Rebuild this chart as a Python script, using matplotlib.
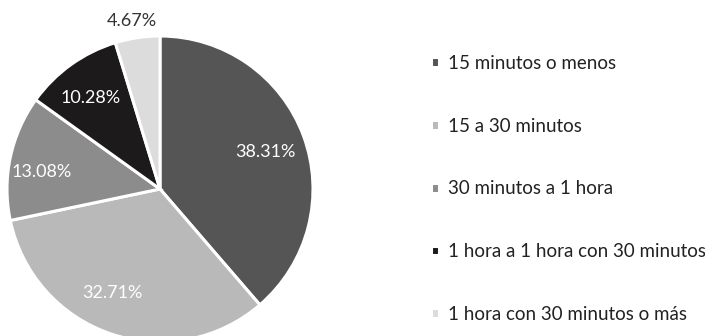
import matplotlib
matplotlib.use("Agg")
import matplotlib.pyplot as plt

categories = ["15 minutos o menos", "15 a 30 minutos", "30 minutos a 1 hora",
              "1 hora a 1 hora con 30 minutos", "1 hora con 30 minutos o más"]
values = [38.31, 32.71, 13.08, 10.28, 4.67]
labels = ["38.31%", "32.71%", "13.08%", "10.28%", "4.67%"]
colors = ["#555555", "#b9b9b9", "#8c8c8c", "#1c1a1b", "#dcdcdc"]
label_colors = ["white", "white", "white", "white", "#333333"]

plt.rcParams['font.family'] = ['Lato', 'DejaVu Sans']

W, H = 705, 336
fig = plt.figure(figsize=(W / 100, H / 100), dpi=100)
cx, cy, r = 160, 189, 153
ax = fig.add_axes([(cx - r) / W, (H - cy - r) / H, 2 * r / W, 2 * r / H])
wedges, _ = ax.pie(values, colors=colors, startangle=90, counterclock=False,
                   radius=1.0, wedgeprops=dict(edgecolor="white", linewidth=2.2))
ax.set_xlim(-1, 1)
ax.set_ylim(-1, 1)
ax.set_aspect("equal")
ax.axis("off")
for w in wedges:
    w.set_clip_on(False)

# label positions in pixel coords (reference)
pos_px = [(265, 152), (112, 293), (42, 172), (91, 98), (132, 21)]
for (px, py), lab, lc in zip(pos_px, labels, label_colors):
    x = (px - cx) / r
    y = (cy - py) / r
    ax.text(x, y, lab, ha="center", va="center", fontsize=13, color=lc,
            clip_on=False)

ax.legend(wedges, categories, loc="upper left",
          bbox_to_anchor=(414 / W, 1 - 38 / H), bbox_transform=fig.transFigure,
          frameon=False, fontsize=13.5, labelspacing=2.44, handlelength=0.42,
          handleheight=0.42, handletextpad=0.5, labelcolor="#222222")

fig.savefig("out.png", dpi=100, facecolor="white")
